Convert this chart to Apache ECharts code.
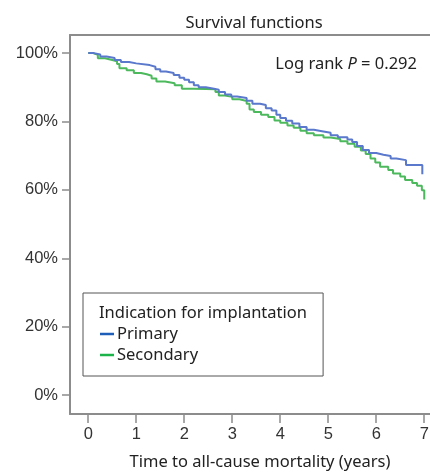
<!DOCTYPE html>
<html>
<head>
<meta charset="utf-8">
<script src="https://cdn.jsdelivr.net/npm/echarts@6/dist/echarts.min.js"></script>
<style>html,body{margin:0;padding:0;background:#fff}#c{width:430px;height:472px}</style>
</head>
<body>
<div id="c"></div>
<script>
var xTicks = [0, 1, 2, 3, 4, 5, 6, 7];
var yTicks = [0, 20, 40, 60, 80, 100];
var primaryTime = [0, 0.12, 0.25, 0.38, 0.55, 0.68, 0.85, 1.0, 1.28, 1.4, 1.5, 1.62, 1.78, 1.9, 2.0, 2.1, 2.2, 2.3, 2.45, 2.62, 2.72, 2.85, 2.98, 3.1, 3.3, 3.42, 3.58, 3.7, 3.82, 3.92, 4.0, 4.12, 4.25, 4.4, 4.55, 4.7, 4.9, 5.05, 5.2, 5.4, 5.5, 5.6, 5.72, 5.85, 6.0, 6.15, 6.3, 6.42, 6.62, 6.96, 6.96];
var primarySurv = [100, 99.6, 99.0, 98.6, 98.0, 97.4, 97.0, 96.5, 96.0, 95.3, 94.6, 94.2, 93.6, 92.8, 92.2, 91.5, 90.6, 90.0, 89.6, 89.3, 88.6, 87.9, 87.3, 86.9, 86.1, 85.2, 84.8, 83.9, 83.2, 82.0, 81.0, 80.2, 79.4, 78.4, 77.6, 77.1, 76.7, 76.0, 75.4, 74.7, 74.0, 72.8, 71.7, 70.8, 70.3, 69.9, 69.2, 68.7, 67.3, 67.3, 64.6];
var secondaryTime = [0, 0.1, 0.2, 0.35, 0.5, 0.6, 0.65, 0.8, 0.95, 1.1, 1.22, 1.32, 1.42, 1.6, 1.8, 1.95, 2.2, 2.45, 2.65, 2.72, 2.85, 3.0, 3.15, 3.3, 3.36, 3.45, 3.6, 3.75, 3.88, 4.0, 4.15, 4.28, 4.42, 4.55, 4.7, 4.9, 5.05, 5.25, 5.4, 5.55, 5.68, 5.78, 5.88, 5.98, 6.08, 6.25, 6.35, 6.5, 6.6, 6.75, 6.85, 6.95, 7.0, 7.0];
var secondarySurv = [100, 99.5, 98.5, 98.0, 97.6, 96.8, 95.6, 95.0, 94.2, 93.8, 93.4, 92.6, 91.7, 91.2, 90.6, 89.6, 89.5, 89.4, 88.6, 87.6, 87.2, 86.5, 86.0, 85.2, 83.5, 82.8, 82.0, 81.3, 80.3, 79.6, 78.8, 78.2, 77.3, 76.6, 76.0, 75.3, 74.9, 74.2, 73.5, 72.6, 71.5, 70.5, 69.2, 68.0, 66.8, 65.8, 64.8, 63.9, 62.9, 62.0, 61.2, 59.9, 58.5, 57.2];
var seriesNames = ['Primary', 'Secondary'];

function pairs(t, s) { return t.map(function (v, i) { return [v, s[i]]; }); }

var axisColor = '#8c8c8c';
var txtFont = '"Noto Sans", sans-serif';
var numFont = '"Liberation Sans", Arial, sans-serif';
var fs = 16.5;

var chart = echarts.init(document.getElementById('c'), null, {renderer: 'canvas'});
chart.setOption({
  animation: false,
  backgroundColor: '#fff',
  title: [
    {text: 'Survival functions', left: 249, textAlign: 'center', top: 10,
     textStyle: {fontFamily: txtFont, fontSize: fs, fontWeight: 'normal', color: '#222'}},
    {text: '{a|Log rank }{b|P}{a| = 0.292}', right: 8, top: 51,
     textStyle: {fontWeight: 'normal', rich: {
       a: {fontFamily: txtFont, fontSize: fs, fontWeight: 'normal', color: '#222'},
       b: {fontFamily: txtFont, fontSize: fs, fontStyle: 'italic', fontWeight: 'normal', color: '#222'}}}},
    {text: 'Indication for implantation', left: 94, top: 300,
     textStyle: {fontFamily: txtFont, fontSize: fs, fontWeight: 'normal', color: '#222'}}
  ],
  legend: {
    orient: 'vertical', left: 83, top: 293,
    padding: [31, 125, 11, 17],
    itemGap: 1, itemWidth: 14, itemHeight: 2.5, icon: 'rect',
    borderColor: '#555', borderWidth: 1,
    textStyle: {fontFamily: txtFont, fontSize: fs, color: '#222', lineHeight: 20, padding: [0, 0, 0, -2]},
    data: [
      {name: seriesNames[0], itemStyle: {color: '#1f5eb8'}},
      {name: seriesNames[1], itemStyle: {color: '#1db34b'}}
    ]
  },
  grid: {left: 70, right: 0, top: 35, bottom: 58, containLabel: false, outerBoundsMode: 'none'},
  xAxis: [{
    type: 'value', min: -0.38, max: 7.12,
    name: 'Time to all-cause mortality (years)', nameLocation: 'middle', nameGap: 40,
    nameTextStyle: {fontFamily: txtFont, fontSize: fs, color: '#222', padding: [0, 0, 0, 20]},
    axisLine: {show: true, onZero: false, lineStyle: {color: axisColor, width: 2}},
    axisTick: {show: true, length: 9, customValues: xTicks, lineStyle: {color: axisColor, width: 1.5}},
    axisLabel: {customValues: xTicks, margin: 12, fontFamily: numFont, fontSize: fs, color: '#333'},
    splitLine: {show: false}
  }, {
    type: 'value', position: 'top', min: -0.38, max: 7.12,
    axisLine: {show: true, onZero: false, lineStyle: {color: axisColor, width: 2}},
    axisTick: {show: false}, axisLabel: {show: false}, splitLine: {show: false}
  }],
  yAxis: {
    type: 'value', min: -5.55, max: 105.3,
    axisLine: {show: true, onZero: false, lineStyle: {color: axisColor, width: 2}},
    axisTick: {show: true, length: 8, customValues: yTicks, lineStyle: {color: axisColor, width: 1.5}},
    axisLabel: {customValues: yTicks, margin: 12, fontFamily: numFont, fontSize: fs, color: '#333',
      formatter: function (v) { return v + '%'; }},
    splitLine: {show: false}
  },
  series: [
    {name: seriesNames[0], type: 'line', step: 'end', data: pairs(primaryTime, primarySurv),
     showSymbol: false, symbol: 'none', lineStyle: {color: '#5a78cc', width: 2}, itemStyle: {color: '#1f5eb8'}, z: 3},
    {name: seriesNames[1], type: 'line', step: 'end', data: pairs(secondaryTime, secondarySurv),
     showSymbol: false, symbol: 'none', lineStyle: {color: '#4cb95c', width: 2}, itemStyle: {color: '#1db34b'}, z: 2}
  ]
});
</script>
</body>
</html>
